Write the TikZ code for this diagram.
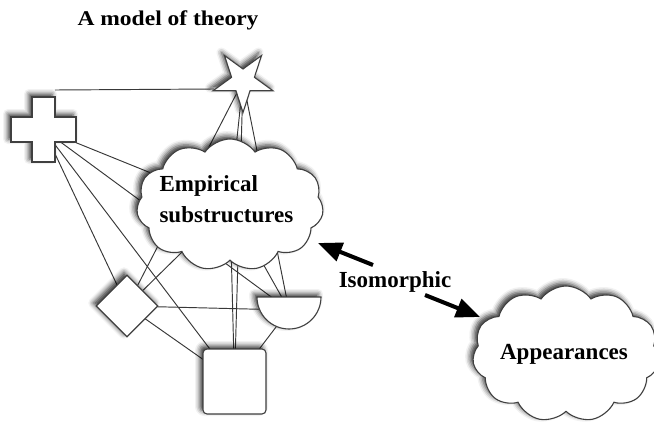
\documentclass[tikz,border=0pt]{standalone}
\usepackage{fontspec}
\setmainfont{Liberation Serif}
\newfontfamily\titlefont[FakeStretch=1.12]{Liberation Serif}
\usetikzlibrary{shapes.geometric,shapes.symbols,arrows.meta,shadows.blur}
\pgfdeclarelayer{background}
\pgfsetlayers{background,main}
\begin{document}
\begin{tikzpicture}[x=1pt,y=1pt,
  shp/.style={draw=black!75, line width=1.1pt, fill=white,
    blur shadow={shadow xshift=-3pt, shadow yshift=3pt, shadow blur radius=5pt, shadow opacity=80}},
  edge/.style={draw=black!78, line width=0.95pt},
  cloudbox/.style={shp, cloud, cloud puffs=11, cloud puff arc=110, minimum width=187pt, minimum height=132pt, inner sep=0pt},
  lbl/.style={font=\fontsize{23}{31}\selectfont\bfseries},
  isoarrow/.style={line width=4pt, -{Triangle[length=24pt,width=19pt,fill=black]}}
]
\useasboundingbox (0,0) rectangle (654,-426);

\node[font=\titlefont\fontsize{21}{25}\selectfont\bfseries] (title) at (168,-20) {A model of theory};

% node positions
\coordinate (cr) at (43.5,-129.5);
\coordinate (crtop) at (55,-90);
\coordinate (st) at (243,-81);
\coordinate (stleft) at (214,-89);
\node[shp, diamond, aspect=1, minimum width=62pt, minimum height=62pt, inner sep=0pt] (dm) at (127,-306) {};
\coordinate (bw) at (289,-310);
\node[shp, rectangle, rounded corners=4pt, minimum width=63pt, minimum height=65pt, inner sep=0pt] (sq) at (234.5,-381.5) {};
\node[cloudbox] (E) at (230,-205) {};
\node[cloudbox, minimum height=136pt] (A) at (566,-354) {};

% star (point down)
\draw[shp, shift={(243,-81)}] (270:31.5) -- (306:12) -- (342:31.5) -- (18:12) -- (54:31.5) -- (90:12) -- (126:31.5) -- (162:12) -- (198:31.5) -- (234:12) -- cycle;
% cross
\draw[shp] (32,-97) -- (55,-97) -- (55,-117) -- (76,-117) -- (76,-142) -- (55,-142) -- (55,-162) -- (32,-162) -- (32,-142) -- (11,-142) -- (11,-117) -- (32,-117) -- cycle;
% bowl
\draw[shp] (257,-297) arc[start angle=180, end angle=360, radius=32] -- cycle;

% edges
\begin{pgfonlayer}{background}
\draw[edge] (crtop) -- (stleft);
\draw[edge] (cr) -- (E.center);
\draw[edge] (cr) -- (dm.center);
\draw[edge] (cr) -- (bw);
\draw[edge] (cr) -- (sq.center);
\draw[edge] (st) -- (E.center);
\draw[edge] (st) -- (dm.center);
\draw[edge] (st) -- (bw);
\draw[edge] (st) -- (sq.center);
\draw[edge] (E.center) -- (dm.center);
\draw[edge] (E.center) -- (bw);
\draw[edge] (E.center) -- (sq.center);
\draw[edge] (dm.center) -- (bw);
\draw[edge] (dm.center) -- (sq.center);
\draw[edge] (bw) -- (sq.center);
\end{pgfonlayer}

% labels
\node[lbl, align=left, anchor=west] (Et) at (156,-199) {Empirical\\substructures};
\node[lbl] (At) at (564,-354) {Appearances};
\node[lbl, inner sep=1pt] (iso) at (395,-282) {Isomorphic};

\coordinate (a1s) at (373,-265);
\coordinate (a1e) at (318,-243);
\coordinate (a2s) at (425,-295);
\coordinate (a2e) at (480,-317);
\draw[isoarrow] (a1s) -- (a1e);
\draw[isoarrow] (a2s) -- (a2e);
\end{tikzpicture}
\end{document}
